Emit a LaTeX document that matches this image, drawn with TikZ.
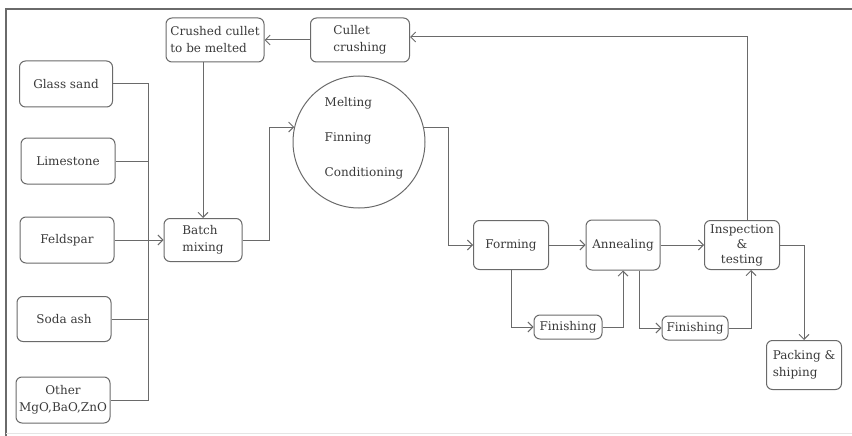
\documentclass[tikz,border=0pt]{standalone}
\usepackage{fontspec}
\setmainfont{DejaVu Serif}
\usetikzlibrary{arrows.meta,calc}
\definecolor{linegray}{HTML}{6A6A6A}
\definecolor{textgray}{HTML}{3A3A3A}
\begin{document}
\begin{tikzpicture}[x=1pt,y=-1pt,
  every node/.style={font=\fontsize{12}{17}\selectfont, text=textgray},
  box/.style={draw=linegray, line width=1pt, rounded corners=6pt, inner sep=0pt},
  conn/.style={draw=linegray, line width=1pt},
  arr/.style={conn, -{Straight Barb[length=5pt,width=10pt,line width=0.9pt]}}]
\useasboundingbox (0,0) rectangle (852,436);

% page frame
\draw[linegray, line width=1.2pt] (6,436) -- (6,9) -- (852,9);
\draw[gray!20, line width=0.6pt] (6,433) -- (852,433);

% raw materials
\node[box, minimum width=93pt, minimum height=46pt] (sand) at (66,84) {Glass sand};
\node[box, minimum width=94pt, minimum height=46pt] (lime) at (68,161) {Limestone};
\node[box, minimum width=94pt, minimum height=46pt] (feld) at (67,240) {Feldspar};
\node[box, minimum width=94pt, minimum height=45pt] (soda) at (64,319) {Soda ash};
\node[box, minimum width=94pt, minimum height=46pt, align=center] (other) at (63,400) {Other\\MgO,BaO,ZnO};

% cullet loop
\node[box, minimum width=98pt, minimum height=44pt, align=left] (crushed) at (215,40) {Crushed cullet\\to be melted};
\node[box, minimum width=99pt, minimum height=44pt, align=left] (cullet) at (360,40) {Cullet\\crushing};

% batch and furnace
\node[box, minimum width=78pt, minimum height=43pt, align=left] (batch) at (203,240) {Batch\\mixing};
\node[draw=linegray, line width=1pt, circle, minimum size=132pt, inner sep=0pt] (melt) at (359,142) {};
\node[align=left, inner sep=0pt] (melttxt) at (364,138) {Melting\\[18pt]Finning\\[18pt]Conditioning};

% forming line
\node[box, minimum width=75pt, minimum height=49pt] (forming) at (511,245) {Forming};
\node[box, minimum width=74pt, minimum height=50pt] (anneal) at (623,245) {Annealing};
\node[box, minimum width=75pt, minimum height=49pt, align=center, font=\fontsize{12}{15}\selectfont] (insp) at (742,245) {Inspection\\\&\\testing};
\node[box, minimum width=68pt, minimum height=24pt] (fin1) at (568,327) {Finishing};
\node[box, minimum width=66pt, minimum height=24pt] (fin2) at (695,328) {Finishing};
\node[box, minimum width=75pt, minimum height=49pt, align=left] (pack) at (804,365) {Packing \&\\shiping};

% collecting bus for the raw materials
\coordinate (bus) at (148,0);
\draw[conn] (sand.east) -- (bus |- sand.east) -- (bus |- other.east) -- (other.east);
\draw[conn] (lime.east) -- (bus |- lime.east);
\draw[conn] (soda.east) -- (bus |- soda.east);
\draw[arr] (feld.east) -- (batch.west);

% cullet return
\draw[arr] (cullet.west) -- (crushed.east);
\draw[arr] (crushed.south -| batch.north) -- (batch.north);

% batch to furnace to forming
\coordinate (j1) at (269,0);
\coordinate (j2) at (448,0);
\draw[arr] (batch.east) -| (j1 |- melt.167) -- (melt.167);
\draw[arr] (melt.13) -- (j2 |- melt.13) |- (forming.west);

% main line
\draw[arr] (forming.east) -- (anneal.west);
\draw[arr] (anneal.east) -- (insp.west);
\draw[arr] (forming.south) |- (fin1.west);
\draw[arr] (fin1.east) -| (anneal.south);
\draw[arr] ([xshift=16pt]anneal.south) |- (fin2.west);
\draw[arr] (fin2.east) -| ([xshift=9pt]insp.south);
\draw[arr] (insp.east) -| (pack.north);

% rejected ware back to crushing
\coordinate (top) at (0,37);
\draw[arr] ([xshift=5pt]insp.north) -- ([xshift=5pt]insp.north |- top) -- (cullet.east |- top);
\end{tikzpicture}
\end{document}
